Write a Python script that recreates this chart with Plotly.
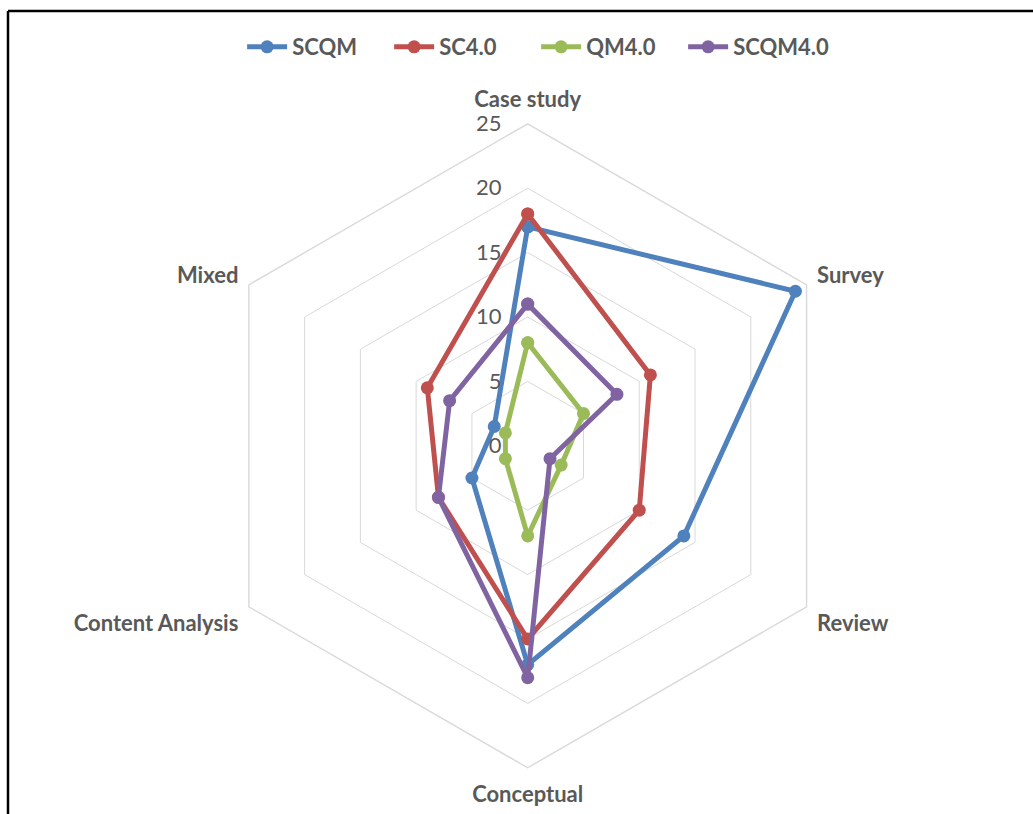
import plotly.graph_objects as go

# Research method categories (clockwise from top)
categories = ["Case study", "Survey", "Review", "Conceptual", "Content Analysis", "Mixed"]

# Number of studies per method for each research stream
scqm = [17, 24, 14, 17, 5, 3]
sc40 = [18, 11, 10, 15, 8, 9]
qm40 = [8, 5, 3, 7, 2, 2]
scqm40 = [11, 8, 2, 18, 8, 7]

series_names = ["SCQM", "SC4.0", "QM4.0", "SCQM4.0"]
series_values = [scqm, sc40, qm40, scqm40]
series_colors = ["#4F81BD", "#C0504D", "#9BBB59", "#8064A2"]

radial_ticks = [0, 5, 10, 15, 20, 25]

W, H = 1033, 814
cx, cy, R = 527.7, 445.8, 322.0  # polar centre and outer radius, in pixels

TEXT = "#595959"
GRID = "#D9D9D9"
FONT = "Lato"

fig = go.Figure()
for name, vals, col in zip(series_names, series_values, series_colors):
    fig.add_trace(go.Scatterpolar(
        r=vals + vals[:1],
        theta=categories + categories[:1],
        name=name,
        mode="lines+markers",
        line=dict(color=col, width=5),
        marker=dict(color=col, size=13),
        cliponaxis=False,
    ))

fig.update_layout(
    width=W, height=H,
    margin=dict(l=0, r=0, t=0, b=0),
    paper_bgcolor="white",
    plot_bgcolor="white",
    font=dict(family=FONT, color=TEXT),
    showlegend=True,
    legend=dict(
        orientation="h",
        x=0.519, xanchor="center",
        y=1 - 47 / H, yanchor="middle",
        font=dict(family=FONT, size=22, color=TEXT, weight="bold"),
        itemwidth=40,
        entrywidth=92,
    ),
    polar=dict(
        domain=dict(x=[(cx - R) / W, (cx + R) / W], y=[1 - (cy + R) / H, 1 - (cy - R) / H]),
        gridshape="linear",
        bgcolor="white",
        radialaxis=dict(
            range=[0, 25],
            tickvals=radial_ticks,
            angle=90,
            tickangle=90,
            side="counterclockwise",
            showline=False,
            ticks="outside",
            ticklen=18,
            tickcolor="rgba(0,0,0,0)",
            gridcolor=GRID,
            gridwidth=1.4,
            tickfont=dict(family=FONT, size=22, color=TEXT),
        ),
        angularaxis=dict(
            rotation=90,
            direction="clockwise",
            showgrid=False,
            showline=True,
            linecolor=GRID,
            linewidth=1.4,
            ticks="outside",
            ticklen=7,
            tickcolor="rgba(0,0,0,0)",
            tickfont=dict(family=FONT, size=22, color=TEXT, weight="bold"),
        ),
    ),
    shapes=[
        # frame open to the right and bottom
        dict(type="line", xref="paper", yref="paper",
             x0=8 / W, x1=1.02, y0=1 - 11 / H, y1=1 - 11 / H,
             line=dict(color="black", width=2.5)),
        dict(type="line", xref="paper", yref="paper",
             x0=8 / W, x1=8 / W, y0=1 - 11 / H, y1=-0.02,
             line=dict(color="black", width=2.5)),
    ],
)

fig.write_html("out.html")
